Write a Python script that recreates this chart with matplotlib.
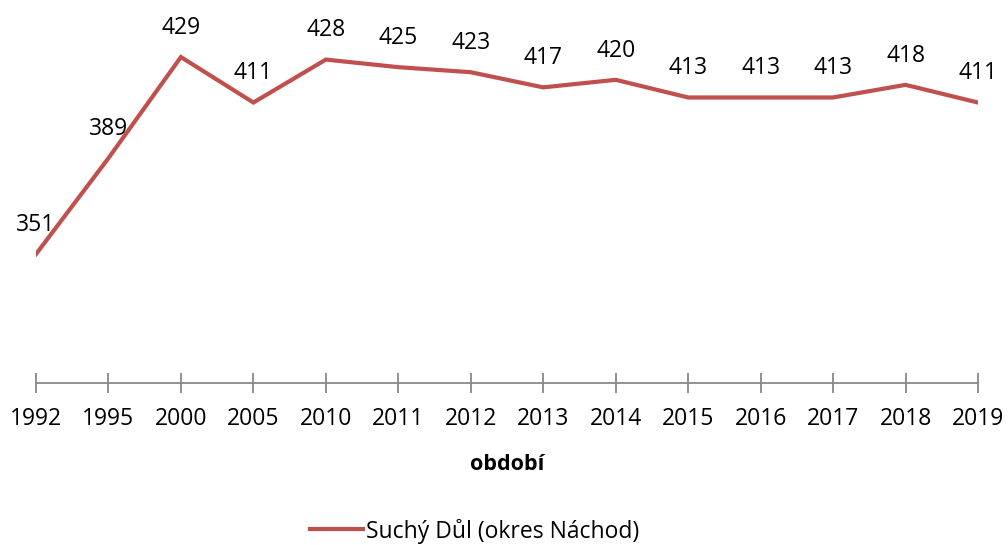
import matplotlib
matplotlib.use("Agg")
import matplotlib.pyplot as plt

# data
years = ["1992", "1995", "2000", "2005", "2010", "2011", "2012",
         "2013", "2014", "2015", "2016", "2017", "2018", "2019"]
population = [351, 389, 429, 411, 428, 425, 423, 417, 420, 413, 413, 413, 418, 411]

plt.rcParams['font.family'] = ['Open Sans', 'DejaVu Sans']

fig = plt.figure(figsize=(10.08, 5.45), dpi=100)
ax = fig.add_axes([36/1008, 162/545, (978-36)/1008, (541-162)/545])

x = list(range(len(years)))
line, = ax.plot(x, population, color='#C0504D', lw=3, solid_joinstyle='miter',
                label='Suchý Důl (okres Náchod)')

for xi, v in zip(x, population):
    ax.annotate(str(v), (xi, v), xytext=(0, 21), textcoords='offset points',
                ha='center', va='center', fontsize=16.5, color='#000000')

ax.set_xlim(0, len(years) - 1)
ax.set_ylim(300, 450)
ax.set_xticks(x)
ax.set_xticklabels(years, fontsize=16.5)
ax.set_yticks([])
for s in ['top', 'right', 'left']:
    ax.spines[s].set_visible(False)
ax.spines['bottom'].set_color('#888888')
ax.spines['bottom'].set_linewidth(1.3)
ax.tick_params(axis='x', direction='inout', length=14, width=1.3, color='#888888', pad=10)

ax.set_xlabel('období', fontsize=15.5, fontweight='bold', labelpad=17)

fig.legend(handles=[line], loc='center', bbox_to_anchor=(0.471, 14/545),
           frameon=False, fontsize=16.5, handlelength=2.3, handletextpad=0.15)

fig.savefig('out.png', dpi=100)
